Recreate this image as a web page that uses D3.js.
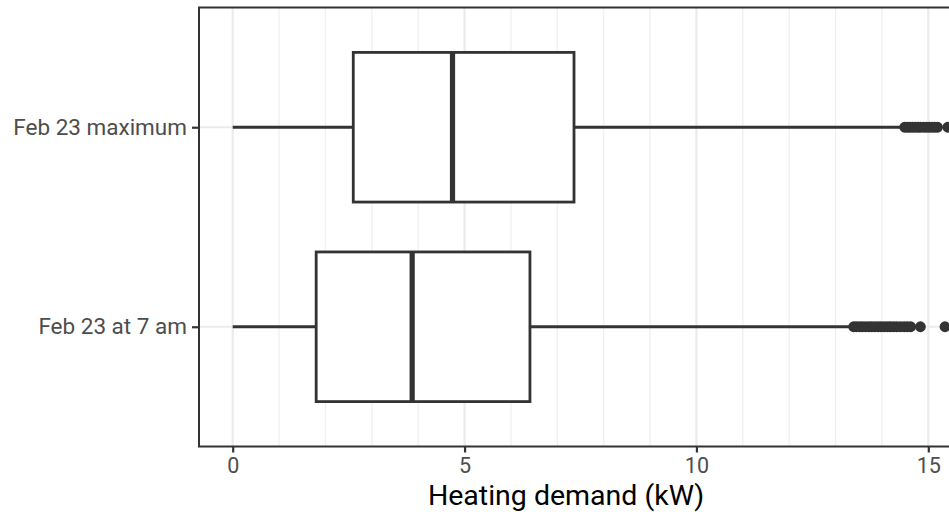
<!DOCTYPE html>
<html>
<head>
<meta charset="utf-8">
<script src="https://cdn.jsdelivr.net/npm/d3@7"></script>
<style>
  html, body { margin: 0; padding: 0; background: #fff; }
  svg { display: block; font-family: Roboto, "Liberation Sans", sans-serif; }
</style>
</head>
<body>
<svg id="chart" width="949" height="512"></svg>
<script>
// Heating demand distributions, one row per scenario (top to bottom)
const categories = ["Feb 23 maximum", "Feb 23 at 7 am"];
const whiskerLow  = [0, 0];
const q1          = [2.60, 1.80];
const median      = [4.74, 3.87];
const q3          = [7.36, 6.41];
const whiskerHigh = [14.45, 13.35];
const outliersMax = [14.49, 14.55, 14.60, 14.66, 14.72, 14.78, 14.83, 14.90, 14.96, 15.02, 15.08, 15.14, 15.20, 15.42];
const outliers7am = [13.39, 13.45, 13.52, 13.58, 13.65, 13.72, 13.78, 13.85, 13.92, 13.98, 14.05, 14.12, 14.18, 14.25, 14.32, 14.40, 14.48, 14.55, 14.62, 14.83, 15.36];
const outliers = [outliersMax, outliers7am];
const xTicks = [0, 5, 10, 15];
const xMinor = d3.range(0, 17, 1).filter(v => v % 5 !== 0);
const xTitle = "Heating demand (kW)";

const svg = d3.select("#chart");
const panel = { left: 199, top: 7.5, right: 975, bottom: 446.5 };

const x = d3.scaleLinear().domain([0, 15]).range([232.7, 928.3]);
const y = d3.scalePoint().domain(categories).range([panel.top, panel.bottom]).padding(0.6);
const boxH = y.step() * 0.75;

const ink = "#333333";
const yLabelSize = 22.5;
const xLabelSize = 21.5;

// panel background and grid
svg.append("rect")
  .attr("x", panel.left).attr("y", panel.top)
  .attr("width", panel.right - panel.left).attr("height", panel.bottom - panel.top)
  .attr("fill", "#fff");

const grid = svg.append("g");
grid.selectAll("line.minor").data(xMinor).join("line")
  .attr("class", "minor")
  .attr("x1", d => x(d)).attr("x2", d => x(d))
  .attr("y1", panel.top).attr("y2", panel.bottom)
  .attr("stroke", "#f0f0f0").attr("stroke-width", 1.3);
grid.selectAll("line.major").data(xTicks).join("line")
  .attr("class", "major")
  .attr("x1", d => x(d)).attr("x2", d => x(d))
  .attr("y1", panel.top).attr("y2", panel.bottom)
  .attr("stroke", "#ebebeb").attr("stroke-width", 2.2);
grid.selectAll("line.hmajor").data(categories).join("line")
  .attr("class", "hmajor")
  .attr("x1", panel.left).attr("x2", panel.right)
  .attr("y1", d => y(d)).attr("y2", d => y(d))
  .attr("stroke", "#ebebeb").attr("stroke-width", 2.2);

// boxplots
const rows = categories.map((c, i) => ({
  cat: c, lo: whiskerLow[i], q1: q1[i], med: median[i], q3: q3[i], hi: whiskerHigh[i], out: outliers[i]
}));

const g = svg.append("g");
rows.forEach(r => {
  const cy = y(r.cat);
  g.append("line")
    .attr("x1", x(r.lo)).attr("x2", x(r.q1))
    .attr("y1", cy).attr("y2", cy)
    .attr("stroke", ink).attr("stroke-width", 2.8);
  g.append("line")
    .attr("x1", x(r.q3)).attr("x2", x(r.hi))
    .attr("y1", cy).attr("y2", cy)
    .attr("stroke", ink).attr("stroke-width", 2.8);
  g.append("rect")
    .attr("x", x(r.q1)).attr("y", cy - boxH / 2)
    .attr("width", x(r.q3) - x(r.q1)).attr("height", boxH)
    .attr("fill", "#fff").attr("stroke", ink).attr("stroke-width", 2.8);
  g.append("line")
    .attr("x1", x(r.med)).attr("x2", x(r.med))
    .attr("y1", cy - boxH / 2).attr("y2", cy + boxH / 2)
    .attr("stroke", ink).attr("stroke-width", 5.2);
  g.selectAll(null).data(r.out).join("circle")
    .attr("cx", d => x(d)).attr("cy", cy).attr("r", 5.4)
    .attr("fill", ink);
});

// panel border
svg.append("rect")
  .attr("x", panel.left).attr("y", panel.top)
  .attr("width", panel.right - panel.left).attr("height", panel.bottom - panel.top)
  .attr("fill", "none").attr("stroke", ink).attr("stroke-width", 2);

// axes
const xAxis = svg.append("g")
  .attr("transform", `translate(0,${panel.bottom})`)
  .call(d3.axisBottom(x).tickValues(xTicks).tickFormat(d3.format("d")).tickSize(6).tickPadding(5));
xAxis.select(".domain").remove();
xAxis.selectAll(".tick line").attr("stroke", ink).attr("stroke-width", 2.2);
xAxis.selectAll(".tick text").attr("fill", "#4d4d4d").attr("font-size", xLabelSize).attr("font-family", "Roboto");

const yAxis = svg.append("g")
  .attr("transform", `translate(${panel.left},0)`)
  .call(d3.axisLeft(y).tickSize(7).tickPadding(5));
yAxis.select(".domain").remove();
yAxis.selectAll(".tick line").attr("stroke", ink).attr("stroke-width", 2.2);
yAxis.selectAll(".tick text").attr("fill", "#4d4d4d").attr("font-size", yLabelSize).attr("font-family", "Roboto");

svg.append("text")
  .attr("x", 566).attr("y", 505)
  .attr("text-anchor", "middle")
  .attr("font-size", 28.5).attr("fill", "#000")
  .text(xTitle);
</script>
</body>
</html>
